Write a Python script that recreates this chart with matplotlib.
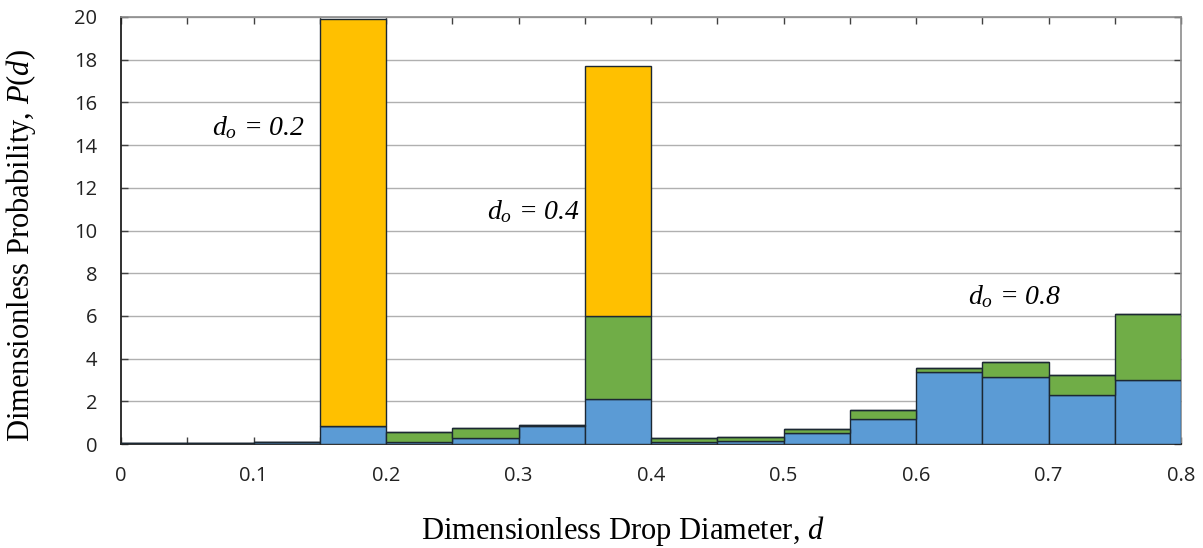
import numpy as np
import matplotlib
matplotlib.use("Agg")
import matplotlib.pyplot as plt
from matplotlib.ticker import MultipleLocator

plt.rcParams['mathtext.fontset'] = 'custom'
plt.rcParams['mathtext.rm'] = 'Liberation Serif'
plt.rcParams['mathtext.it'] = 'Liberation Serif:italic'

# Bin left edges of the drop-size histogram (bin width 0.05)
bin_left = [0.00, 0.05, 0.10, 0.15, 0.20, 0.25, 0.30, 0.35,
            0.40, 0.45, 0.50, 0.55, 0.60, 0.65, 0.70, 0.75]
bin_width = 0.05

# Stacked contributions per bin
blue_vals = [0.05, 0.05, 0.10, 0.84, 0.10, 0.27, 0.85, 2.10,
             0.10, 0.15, 0.50, 1.17, 3.35, 3.12, 2.30, 3.02]
green_vals = [0.00, 0.00, 0.00, 0.00, 0.47, 0.49, 0.05, 3.88,
              0.20, 0.20, 0.22, 0.42, 0.23, 0.70, 0.94, 3.05]
orange_vals = [0.00, 0.00, 0.00, 19.06, 0.00, 0.00, 0.00, 11.72,
               0.00, 0.00, 0.00, 0.00, 0.00, 0.00, 0.00, 0.00]

x_ticks = [0, 0.1, 0.2, 0.3, 0.4, 0.5, 0.6, 0.7, 0.8]
x_tick_labels = ['0', '0.1', '0.2', '0.3', '0.4', '0.5', '0.6', '0.7', '0.8']
y_ticks = [0, 2, 4, 6, 8, 10, 12, 14, 16, 18, 20]

# (initial diameter, x of left edge, y of centre)
annotations = [(0.2, 0.069, 14.8), (0.4, 0.276, 10.9), (0.8, 0.639, 6.9)]

fig = plt.figure(figsize=(12.03, 5.48), dpi=100)
ax = fig.add_axes([121/1203, 104/548, 1060/1203, 427/548])

edge = '#1c2833'
b = np.array(blue_vals)
g = np.array(green_vals)
o = np.array(orange_vals)
ax.bar(bin_left, b, width=bin_width, align='edge', color='#5B9BD5',
       edgecolor=edge, linewidth=1.0, zorder=3)
ax.bar(bin_left, g, width=bin_width, bottom=b, align='edge', color='#70AD47',
       edgecolor=edge, linewidth=1.0, zorder=3)
ax.bar(bin_left, o, width=bin_width, bottom=b + g, align='edge', color='#FFC000',
       edgecolor=edge, linewidth=1.0, zorder=3)

ax.set_xlim(0, 0.8)
ax.set_ylim(0, 20)
ax.set_xticks(x_ticks)
ax.set_xticklabels(x_tick_labels)
ax.xaxis.set_minor_locator(MultipleLocator(0.05))
ax.set_yticks(y_ticks)

ax.yaxis.grid(True, color='#b0b0b0', linewidth=1.0, zorder=0)
ax.set_axisbelow(True)

for side in ['top', 'right']:
    ax.spines[side].set_color('#8c8c8c')
    ax.spines[side].set_linewidth(1.2)
for side in ['left', 'bottom']:
    ax.spines[side].set_color('#202020')
    ax.spines[side].set_linewidth(1.3)

ax.tick_params(axis='both', which='both', direction='in', top=True, right=True,
               length=5, width=1.0, color='#404040')
ax.tick_params(axis='x', which='major', pad=16)
ax.tick_params(axis='y', which='major', pad=17)
for lab in ax.get_xticklabels() + ax.get_yticklabels():
    lab.set_fontfamily('Open Sans')
    lab.set_fontsize(14.5)
    lab.set_color('#222222')

ax.set_xlabel(r'Dimensionless Drop Diameter, $d$', fontfamily='Liberation Serif',
              fontsize=22)
ax.set_ylabel(r'Dimensionless Probability, $P(d)$', fontfamily='Liberation Serif',
              fontsize=22)
ax.xaxis.set_label_coords(0.473, -0.203)
ax.yaxis.set_label_coords(-0.094, 0.465)
ax.xaxis.label.set_va('center')
ax.yaxis.label.set_va('center')

for d0, xpos, ypos in annotations:
    ax.text(xpos, ypos, r'$d_o$' + f' = {d0:.1f}', fontfamily='Liberation Serif',
            fontstyle='italic', fontsize=20, va='center', zorder=5)

fig.savefig('out.png', dpi=100)
